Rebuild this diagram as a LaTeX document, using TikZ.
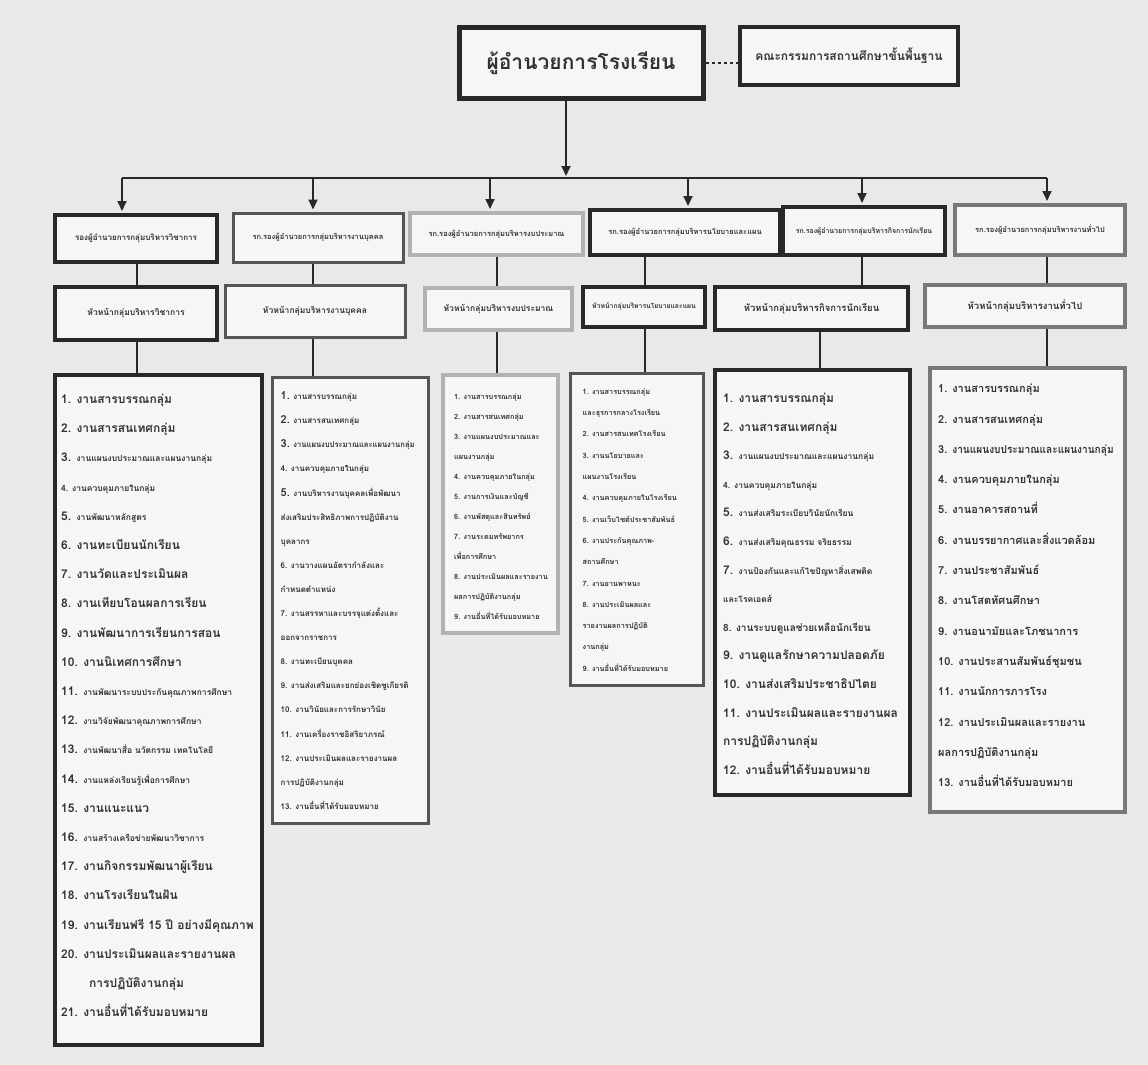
\documentclass[tikz,border=0pt]{standalone}
\usepackage{fontspec}
\usepackage{graphicx}
\usetikzlibrary{arrows.meta}
\newfontfamily\thai[Script=Thai]{Loma}
\definecolor{bg}{RGB}{233,233,233}
\definecolor{bfill}{RGB}{246,246,246}
\definecolor{ink}{RGB}{50,50,50}
\definecolor{edk}{RGB}{40,40,40}
\definecolor{edd}{RGB}{85,85,85}
\definecolor{edm}{RGB}{120,120,120}
\definecolor{edl}{RGB}{178,178,178}
\newcommand\fs[2]{\fontsize{#1}{#2}\selectfont}
\newcommand\smt[1]{{\fontsize{8.5}{10}\selectfont #1}}
\begin{document}
\begin{tikzpicture}[x=1pt,y=-1pt,
  box/.style={rectangle, fill=bfill, inner sep=0pt, text=ink, align=center},
  boxK/.style={box, draw=edk, line width=4pt},
  boxD/.style={box, draw=edd, line width=3pt},
  boxM/.style={box, draw=edm, line width=4pt},
  boxL/.style={box, draw=edl, line width=4pt},
  lst/.style={anchor=north west, inner sep=0pt, align=left, text=ink},
  conn/.style={draw=edk, line width=1.8pt},
  arr/.style={conn, -{Triangle[length=10pt,width=9pt]}, shorten >=2pt}]
\fill[bg] (0,0) rectangle (1148,1065);
\useasboundingbox (0,0) rectangle (1148,1065);

% top level
\node[boxK, line width=5pt, minimum width=244pt, minimum height=70pt, font={\thai\bfseries\fs{21}{24}}] (Dir) at (581,63) {ผู้อำนวยการโรงเรียน};
\node[boxK, line width=4.5pt, minimum width=218pt, minimum height=58pt, font={\thai\bfseries\fs{12}{14}}] (Com) at (849,56) {คณะกรรมการสถานศึกษาขั้นพื้นฐาน};
\draw[conn, dashed, line width=1.5pt] (Dir.east) -- (Dir.east -| Com.west);

% deputies
\node[boxK, minimum width=162pt, minimum height=47pt, font={\thai\bfseries\fs{8}{10}}] (D1) at (136,238.5) {รองผู้อำนวยการกลุ่มบริหารวิชาการ};
\node[boxD, minimum width=170pt, minimum height=49pt, font={\thai\bfseries\fs{7.5}{10}}] (D2) at (318,237.5) {รก.รองผู้อำนวยการกลุ่มบริหารงานบุคคล};
\node[boxL, minimum width=173pt, minimum height=42pt, font={\thai\bfseries\fs{7.5}{10}}] (D3) at (496.5,234) {รก.รองผู้อำนวยการกลุ่มบริหารงบประมาณ};
\node[boxK, minimum width=190pt, minimum height=45pt, font={\thai\bfseries\fs{7.5}{10}}] (D4) at (685,232.5) {รก.รองผู้อำนวยการกลุ่มบริหารนโยบายและแผน};
\node[boxK, minimum width=162pt, minimum height=48pt, font={\thai\bfseries\fs{7}{10}}] (D5) at (864,231) {รก.รองผู้อำนวยการกลุ่มบริหารกิจการนักเรียน};
\node[boxM, minimum width=170pt, minimum height=50pt, font={\thai\bfseries\fs{7.5}{10}}] (D6) at (1040,230) {รก.รองผู้อำนวยการกลุ่มบริหารงานทั่วไป};

% group heads
\node[boxK, minimum width=162pt, minimum height=53pt, font={\thai\bfseries\fs{8.5}{10}}] (H1) at (136,313.5) {หัวหน้ากลุ่มบริหารวิชาการ};
\node[boxD, minimum width=180pt, minimum height=52pt, font={\thai\bfseries\fs{8.5}{10}}] (H2) at (315,311) {หัวหน้ากลุ่มบริหารงานบุคคล};
\node[boxL, minimum width=147pt, minimum height=42pt, font={\thai\bfseries\fs{8.5}{10}}] (H3) at (498.5,309) {หัวหน้ากลุ่มบริหารงบประมาณ};
\node[boxK, minimum width=122pt, minimum height=40pt, font={\thai\bfseries\fs{6.8}{10}}] (H4) at (644,307) {หัวหน้ากลุ่มบริหารนโยบายและแผน};
\node[boxK, minimum width=193pt, minimum height=43pt, font={\thai\bfseries\fs{9.5}{10}}] (H5) at (811.5,308.5) {หัวหน้ากลุ่มบริหารกิจการนักเรียน};
\node[boxM, minimum width=200pt, minimum height=42pt, font={\thai\bfseries\fs{9.5}{10}}] (H6) at (1025,306) {หัวหน้ากลุ่มบริหารงานทั่วไป};

% list boxes
\node[boxK, minimum width=207pt, minimum height=670pt] (L1) at (158.5,710) {};
\node[boxD, minimum width=156pt, minimum height=446pt] (L2) at (350,600) {};
\node[boxL, minimum width=115pt, minimum height=258pt] (L3) at (500.5,504) {};
\node[boxD, minimum width=133pt, minimum height=312pt] (L4) at (636.5,529) {};
\node[boxK, minimum width=195pt, minimum height=425pt] (L5) at (812.5,582.5) {};
\node[boxM, minimum width=195pt, minimum height=444pt] (L6) at (1027.5,590) {};

% connector columns
\coordinate (bm) at (566,178);
\coordinate (bl) at (122,178);
\coordinate (br) at (1047,178);
\coordinate (a2) at (313,178);
\coordinate (a3) at (490,178);
\coordinate (a4) at (688,178);
\coordinate (a5) at (862,178);
\coordinate (k1) at (137,0);
\coordinate (k2) at (313,0);
\coordinate (k3) at (497,0);
\coordinate (k4) at (645,0);
\coordinate (k5) at (862,0);
\coordinate (k6) at (1047,0);
\coordinate (m5) at (820,0);

\draw[arr] (Dir.south -| bm) -- (bm);
\draw[conn] (bl) -- (br);
\draw[arr] (bl) -- (bl |- D1.north);
\draw[arr] (a2) -- (a2 |- D2.north);
\draw[arr] (a3) -- (a3 |- D3.north);
\draw[arr] (a4) -- (a4 |- D4.north);
\draw[arr] (a5) -- (a5 |- D5.north);
\draw[arr] (br) -- (br |- D6.north);

\draw[conn, line width=1.5pt] (D1.south -| k1) -- (H1.north -| k1);
\draw[conn, line width=1.5pt] (D2.south -| k2) -- (H2.north -| k2);
\draw[conn, line width=1.5pt] (D3.south -| k3) -- (H3.north -| k3);
\draw[conn, line width=1.5pt] (D4.south -| k4) -- (H4.north -| k4);
\draw[conn, line width=1.5pt] (D5.south -| k5) -- (H5.north -| k5);
\draw[conn, line width=1.5pt] (D6.south -| k6) -- (H6.north -| k6);

\draw[conn, line width=1.5pt] (H1.south -| k1) -- (L1.north -| k1);
\draw[conn, line width=1.5pt] (H2.south -| k2) -- (L2.north -| k2);
\draw[conn, line width=1.5pt] (H3.south -| k3) -- (L3.north -| k3);
\draw[conn, line width=1.5pt] (H4.south -| k4) -- (L4.north -| k4);
\draw[conn, line width=1.5pt] (H5.south -| m5) -- (L5.north -| m5);
\draw[conn, line width=1.5pt] (H6.south -| k6) -- (L6.north -| k6);

% list texts
\node[lst, font={\thai\bfseries\fs{12}{29.2}}] (T1) at ([xshift=8pt,yshift=-21pt]L1.north west) {%
1. งานสารบรรณกลุ่ม\\
2. งานสารสนเทศกลุ่ม\\
3. \smt{งานแผนงบประมาณและแผนงานกลุ่ม}\\
\smt{4. งานควบคุมภายในกลุ่ม}\\
5. \smt{งานพัฒนาหลักสูตร}\\
6. งานทะเบียนนักเรียน\\
7. งานวัดและประเมินผล\\
8. งานเทียบโอนผลการเรียน\\
9. งานพัฒนาการเรียนการสอน\\
10. งานนิเทศการศึกษา\\
11. \smt{งานพัฒนาระบบประกันคุณภาพการศึกษา}\\
12. \smt{งานวิจัยพัฒนาคุณภาพการศึกษา}\\
13. \smt{งานพัฒนาสื่อ นวัตกรรม เทคโนโลยี}\\
14. \smt{งานแหล่งเรียนรู้เพื่อการศึกษา}\\
15. งานแนะแนว\\
16. \smt{งานสร้างเครือข่ายพัฒนาวิชาการ}\\
17. งานกิจกรรมพัฒนาผู้เรียน\\
18. งานโรงเรียนในฝัน\\
19. งานเรียนฟรี 15 ปี อย่างมีคุณภาพ\\
20. งานประเมินผลและรายงานผล\\
\hspace{28pt}การปฏิบัติงานกลุ่ม\\
21. งานอื่นที่ได้รับมอบหมาย};

\node[lst, font={\thai\bfseries\fs{8}{24.1}}] (T2) at ([xshift=10pt,yshift=-16pt]L2.north west) {%
{\fs{11}{12}1.} งานสารบรรณกลุ่ม\\
{\fs{11}{12}2.} งานสารสนเทศกลุ่ม\\
{\fs{11}{12}3.} \scalebox{0.95}[1]{งานแผนงบประมาณและแผนงานกลุ่ม}\\
4. งานควบคุมภายในกลุ่ม\\
{\fs{11}{12}5.} งานบริหารงานบุคคลเพื่อพัฒนา\\
ส่งเสริมประสิทธิภาพการปฏิบัติงาน\\
บุคลากร\\
6. งานวางแผนอัตรากำลังและ\\
กำหนดตำแหน่ง\\
7. งานสรรหาและบรรจุแต่งตั้งและ\\
ออกจากราชการ\\
8. งานทะเบียนบุคคล\\
9. งานส่งเสริมและยกย่องเชิดชูเกียรติ\\
10. งานวินัยและการรักษาวินัย\\
11. งานเครื่องราชอิสริยาภรณ์\\
12. งานประเมินผลและรายงานผล\\
การปฏิบัติงานกลุ่ม\\
13. งานอื่นที่ได้รับมอบหมาย};

\node[lst, font={\thai\bfseries\fs{7.3}{20}}] (T3) at ([xshift=13pt,yshift=-21pt]L3.north west) {%
1. งานสารบรรณกลุ่ม\\
2. งานสารสนเทศกลุ่ม\\
3. งานแผนงบประมาณและ\\
แผนงานกลุ่ม\\
4. งานควบคุมภายในกลุ่ม\\
5. งานการเงินและบัญชี\\
6. งานพัสดุและสินทรัพย์\\
7. งานระดมทรัพยากร\\
เพื่อการศึกษา\\
8. งานประเมินผลและรายงาน\\
ผลการปฏิบัติงานกลุ่ม\\
9. งานอื่นที่ได้รับมอบหมาย};

\node[lst, font={\thai\bfseries\fs{7.3}{21.3}}] (T4) at ([xshift=14pt,yshift=-17pt]L4.north west) {%
1. งานสารบรรณกลุ่ม\\
และธุรการกลางโรงเรียน\\
2. งานสารสนเทศโรงเรียน\\
3. งานนโยบายและ\\
แผนงานโรงเรียน\\
4. งานควบคุมภายในโรงเรียน\\
5. งานเว็บไซต์ประชาสัมพันธ์\\
6. งานประกันคุณภาพ-\\
สถานศึกษา\\
7. งานยานพาหนะ\\
8. งานประเมินผลและ\\
รายงานผลการปฏิบัติ\\
งานกลุ่ม\\
9. งานอื่นที่ได้รับมอบหมาย};

\node[lst, font={\thai\bfseries\fs{12}{28.6}}] (T5) at ([xshift=10pt,yshift=-25pt]L5.north west) {%
1. งานสารบรรณกลุ่ม\\
2. งานสารสนเทศกลุ่ม\\
3. \smt{งานแผนงบประมาณและแผนงานกลุ่ม}\\
\smt{4. งานควบคุมภายในกลุ่ม}\\
5. \smt{งานส่งเสริมระเบียบวินัยนักเรียน}\\
6. \smt{งานส่งเสริมคุณธรรม จริยธรรม}\\
7. \smt{งานป้องกันและแก้ไขปัญหาสิ่งเสพติด}\\
\smt{และโรคเอดส์}\\
{\fs{10}{12}8. งานระบบดูแลช่วยเหลือนักเรียน}\\
9. งานดูแลรักษาความปลอดภัย\\
10. งานส่งเสริมประชาธิปไตย\\
11. งานประเมินผลและรายงานผล\\
การปฏิบัติงานกลุ่ม\\
12. งานอื่นที่ได้รับมอบหมาย};

\node[lst, font={\thai\bfseries\fs{11}{30.3}}] (T6) at ([xshift=10pt,yshift=-18pt]L6.north west) {%
1. งานสารบรรณกลุ่ม\\
2. งานสารสนเทศกลุ่ม\\
3. \scalebox{0.92}[1]{งานแผนงบประมาณและแผนงานกลุ่ม}\\
4. งานควบคุมภายในกลุ่ม\\
5. งานอาคารสถานที่\\
6. งานบรรยากาศและสิ่งแวดล้อม\\
7. งานประชาสัมพันธ์\\
8. งานโสตทัศนศึกษา\\
9. งานอนามัยและโภชนาการ\\
10. งานประสานสัมพันธ์ชุมชน\\
11. งานนักการภารโรง\\
12. งานประเมินผลและรายงาน\\
ผลการปฏิบัติงานกลุ่ม\\
13. งานอื่นที่ได้รับมอบหมาย};
\end{tikzpicture}
\end{document}
